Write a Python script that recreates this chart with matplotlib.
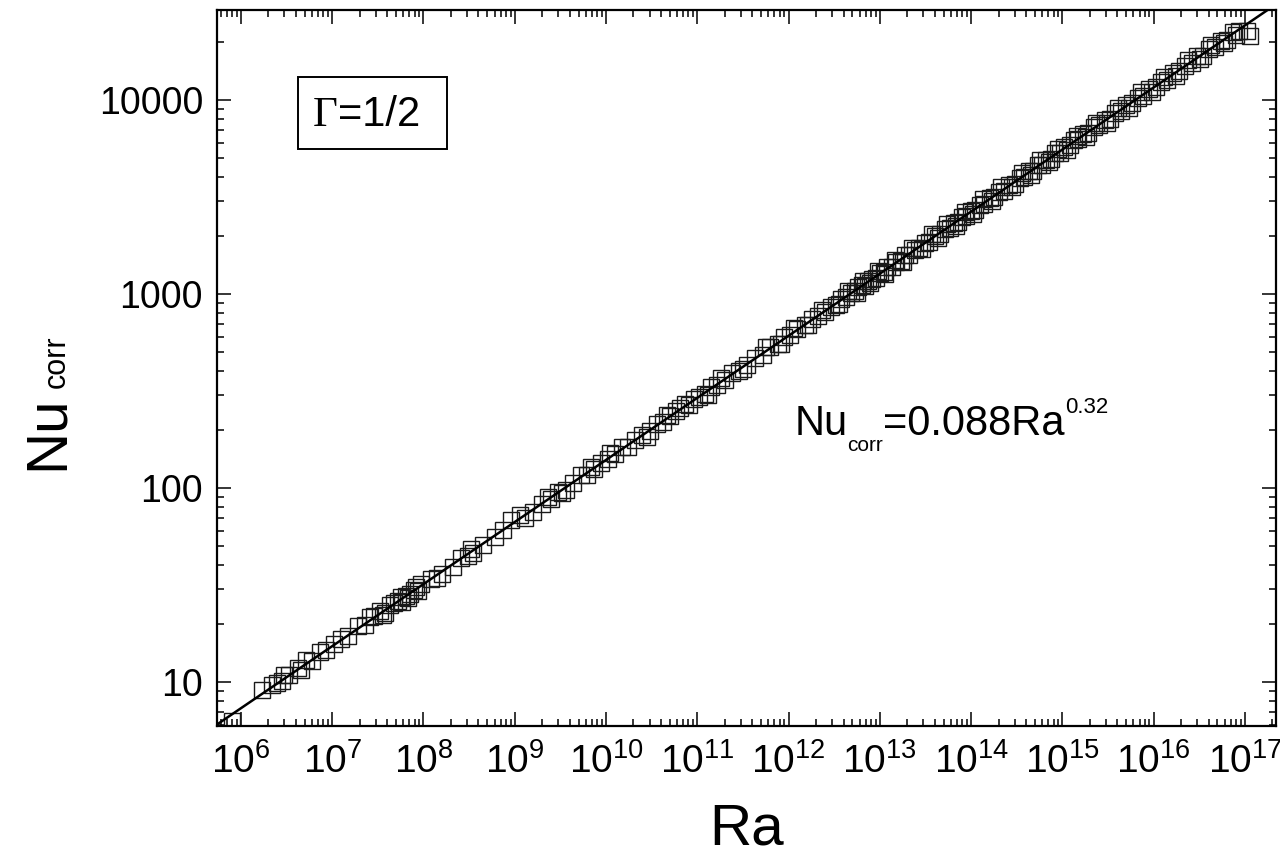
import matplotlib
import numpy as np

matplotlib.use("Agg")
from matplotlib import pyplot as plt
from matplotlib.patches import Rectangle
from matplotlib.ticker import LogLocator, FuncFormatter, NullFormatter

plt.rcParams["font.family"] = ["Liberation Sans", "DejaVu Sans"]
plt.rcParams["mathtext.fontset"] = "custom"
plt.rcParams["mathtext.rm"] = "Liberation Sans"
plt.rcParams["mathtext.it"] = "Liberation Sans:italic"
plt.rcParams["mathtext.bf"] = "Liberation Sans:bold"

ra = np.array([
    8.0e5, 1.7e6, 2.2e6, 2.5e6, 2.8e6, 3.4e6, 4.2e6, 5.1e6, 6.0e6, 7.3e6, 8.5e6,
    1.05e7, 1.25e7, 1.5e7, 1.9e7, 2.3e7, 2.9e7, 3.3e7, 3.8e7, 4.3e7, 4.8e7,
    5.3e7, 5.8e7, 6.4e7, 7.1e7, 7.8e7, 8.6e7, 9.5e7,
    1.2e8, 1.6e8, 2.1e8, 2.6e8, 3.1e8, 3.5e8, 4.5e8, 6.0e8, 7.5e8, 9.0e8,
    1.15e9, 1.3e9, 1.6e9, 2.0e9, 2.5e9, 3.0e9, 3.6e9, 4.4e9, 5.3e9, 6.2e9, 7.4e9, 8.8e9,
    1.05e10, 1.25e10, 1.5e10, 1.75e10, 2.1e10, 2.5e10, 3.0e10, 3.6e10, 4.2e10,
    5.0e10, 5.8e10, 6.5e10, 7.3e10, 8.2e10, 9.2e10,
    1.05e11, 1.2e11, 1.4e11, 1.65e11, 2.0e11, 2.4e11, 2.9e11, 3.5e11, 4.3e11,
    5.2e11, 6.3e11, 7.6e11, 9.0e11,
    1.05e12, 1.25e12, 1.5e12, 1.8e12, 2.1e12, 2.5e12, 2.9e12, 3.3e12, 3.8e12,
    4.3e12, 4.8e12, 5.3e12, 5.8e12, 6.3e12, 6.9e12, 7.5e12, 8.2e12, 9.0e12,
    1.0e13, 1.1e13, 1.2e13, 1.35e13, 1.5e13, 1.7e13, 1.9e13, 2.1e13, 2.4e13,
    2.7e13, 3.1e13, 3.5e13, 4.0e13, 4.6e13, 5.2e13, 5.8e13, 6.5e13, 7.2e13,
    8.0e13, 8.9e13,
    1.0e14, 1.1e14, 1.25e14, 1.4e14, 1.6e14, 1.8e14, 2.0e14, 2.3e14, 2.6e14,
    3.0e14, 3.4e14, 3.8e14, 4.3e14, 4.8e14, 5.4e14, 6.0e14, 6.7e14, 7.5e14,
    8.4e14, 9.4e14,
    1.05e15, 1.2e15, 1.35e15, 1.5e15, 1.7e15, 1.9e15, 2.2e15, 2.5e15, 2.9e15,
    3.3e15, 3.8e15, 4.4e15, 5.0e15, 5.8e15, 6.7e15, 7.7e15, 9.0e15,
    1.05e16, 1.2e16, 1.4e16, 1.65e16, 1.9e16, 2.2e16, 2.6e16, 3.0e16, 3.5e16,
    4.0e16, 4.7e16, 5.5e16, 6.4e16, 7.4e16, 8.6e16,
    1.05e17, 1.15e17,
])
nu = np.array([
    6.3, 9.1, 9.6, 9.9, 10.1, 10.9, 11.8, 12.9, 12.8, 14.2, 14.6,
    15.6, 16.6, 17.2, 19.4, 19.6, 22.0, 23.3, 22.6, 24.8, 25.6,
    26.2, 25.9, 27.8, 28.5, 29.8, 29.4, 31.8,
    34.0, 36.0, 39.3, 43.5, 44.6, 46.0, 50.8, 55.6, 61.0, 68.2,
    72.5, 69.8, 75.0, 83.0, 87.5, 95.5, 98.0, 106.5, 116.0, 116.0, 124.5, 135.0,
    140.5, 149.0, 162.0, 163.0, 176.0, 188.0, 196.0, 213.0, 219.0,
    236.0, 248.0, 258.0, 270.0, 268.0, 286.0,
    294.0, 306.0, 332.0, 338.0, 362.0, 392.0, 403.0, 428.0, 468.0,
    486.0, 530.0, 553.0, 598.0,
    612.0, 660.0, 688.0, 745.0, 770.0, 805.0, 858.0, 880.0, 940.0,
    968.0, 1015.0, 1030.0, 1080.0, 1118.0, 1095.0, 1165.0, 1190.0, 1212.0,
    1290.0, 1300.0, 1375.0, 1380.0, 1470.0, 1485.0, 1580.0, 1590.0, 1695.0,
    1720.0, 1835.0, 1860.0, 1990.0, 2045.0, 2165.0, 2180.0, 2330.0, 2350.0,
    2480.0, 2520.0,
    2690.0, 2720.0, 2880.0, 2920.0, 3120.0, 3170.0, 3360.0, 3400.0, 3650.0,
    3690.0, 3980.0, 4030.0, 4280.0, 4330.0, 4600.0, 4620.0, 4930.0, 4980.0,
    5310.0, 5360.0,
    5700.0, 5850.0, 6200.0, 6280.0, 6650.0, 6760.0, 7250.0, 7390.0, 7900.0,
    8020.0, 8600.0, 8770.0, 9450.0, 9620.0, 10250.0, 10480.0, 11380.0,
    11600.0, 12400.0, 12650.0, 13800.0, 14100.0, 15000.0, 15500.0, 16800.0, 16900.0,
    18300.0, 18700.0, 20100.0, 20500.0, 22400.0, 22600.0,
    22800.0, 21500.0,
])
# second batch of points lying in the same band
ra_extra = np.array([
    3.0e6, 4.6e6, 2.6e7, 3.6e7, 5.6e7, 6.8e7, 8.2e7, 1.4e8, 3.3e8,
    2.3e9, 3.3e9, 6.8e9, 1.1e10, 2.8e10, 4.6e10,
    1.3e11, 1.8e11, 3.2e11, 5.7e11, 8.3e11,
    1.15e12, 1.65e12, 2.3e12, 3.6e12, 4.5e12, 5.6e12, 6.6e12, 7.9e12, 9.5e12,
    1.15e13, 1.45e13, 1.8e13, 2.25e13, 2.9e13, 3.7e13, 4.3e13, 5.5e13, 6.8e13, 8.5e13,
    1.05e14, 1.35e14, 1.7e14, 2.15e14, 2.8e14, 3.6e14, 4.5e14, 5.7e14, 7.1e14, 9.0e14,
    1.12e15, 1.45e15, 1.8e15, 2.35e15, 3.1e15, 4.1e15, 5.4e15, 7.2e15, 9.6e15,
    1.3e16, 1.75e16, 2.4e16, 3.2e16, 4.3e16, 5.9e16, 8.0e16,
])
nu_extra = np.array([
    10.9, 11.5, 21.6, 22.1, 27.5, 27.1, 31.0, 34.3, 48.5,
    90.2, 94.4, 127.5, 152.0, 184.0, 238.0,
    300.0, 371.0, 410.0, 530.0, 551.0,
    668.0, 690.0, 829.0, 885.0, 1030.0, 1012.0, 1170.0, 1135.0, 1310.0,
    1270.0, 1505.0, 1470.0, 1730.0, 1700.0, 2030.0, 1935.0, 2290.0, 2240.0, 2640.0,
    2590.0, 3070.0, 3010.0, 3560.0, 3540.0, 4200.0, 4110.0, 4880.0, 4770.0, 5620.0,
    5530.0, 6540.0, 6440.0, 7650.0, 7640.0, 9110.0, 9110.0, 10960.0, 10950.0,
    13200.0, 13280.0, 16050.0, 16200.0, 19300.0, 19600.0, 21600.0,
])

fit_prefactor = 0.088
fit_exponent = 0.32
ra_range = [5.46e5, 2.2e17]
nu_range = [5.93, 29100]
nu_ticks = [10, 100, 1000, 10000]


def chain_text(fig, x, y, parts, transform, rotation=0):
    """Place text pieces one after another; parts are (text, size, rise_px, gap_px, family)."""
    renderer = fig.canvas.get_renderer()
    advance = 0.0
    for text, size, rise, gap, family in parts:
        advance += gap
        if rotation == 90:
            xy_off = (-rise, advance)
        else:
            xy_off = (advance, rise)
        t = fig.axes[0].annotate(text, xy=(x, y), xycoords=transform,
                                 xytext=xy_off, textcoords="offset pixels",
                                 fontsize=size, family=family, rotation=rotation,
                                 rotation_mode="anchor", ha="left", va="baseline",
                                 annotation_clip=False)
        ext = t.get_window_extent(renderer)
        advance += ext.height if rotation == 90 else ext.width


fig = plt.figure(figsize=(12.8, 8.63), dpi=100)
ax = fig.add_axes([0.1695, 0.1588, 0.8275, 0.8296])

all_ra = np.concatenate([ra, ra_extra])
all_nu = np.concatenate([nu, nu_extra])
ax.plot(all_ra, all_nu, "s", markersize=12, markerfacecolor="none",
        markeredgecolor="#1a1a1a", markeredgewidth=1.0, zorder=2)

ra_fit = np.array(ra_range)
ax.plot(ra_fit, fit_prefactor * ra_fit ** fit_exponent, color="black",
        linewidth=1.8, zorder=3)

ax.set_xscale("log")
ax.set_yscale("log")
ax.set_xlim(ra_range)
ax.set_ylim(nu_range)

ax.xaxis.set_major_locator(LogLocator(base=10, numticks=20))
ax.xaxis.set_minor_locator(LogLocator(base=10, subs=np.arange(2, 10), numticks=20))
ax.xaxis.set_major_formatter(
    FuncFormatter(lambda v, p: r"$\mathregular{10^{%d}}$" % round(np.log10(v))))
ax.xaxis.set_minor_formatter(NullFormatter())
ax.set_yticks(nu_ticks)
ax.yaxis.set_minor_locator(LogLocator(base=10, subs=np.arange(2, 10), numticks=20))
ax.yaxis.set_major_formatter(FuncFormatter(lambda v, p: "%d" % v))
ax.yaxis.set_minor_formatter(NullFormatter())

ax.tick_params(which="both", direction="in", top=True, right=True, width=1.1)
ax.tick_params(which="major", length=10, labelsize=27)
ax.tick_params(axis="x", which="major", pad=12, labelsize=28)
ax.tick_params(axis="y", which="major", pad=10)
ax.tick_params(which="minor", length=5)
for spine in ax.spines.values():
    spine.set_linewidth(1.6)

ax.set_xlabel("Ra", fontsize=42, labelpad=16)

sans = ["Liberation Sans"]
# y label: Nu with a small "corr" subscript, rotated
chain_text(fig, 63 / 1280, 1 - 470 / 863,
           [("Nu", 42, 0, 0, sans), ("corr", 22, -2, 8, sans)],
           fig.transFigure, rotation=90)

# fit annotation
chain_text(fig, 0.545, 0.406,
           [("Nu", 30, 0, 0, sans), ("corr", 15, -16, 0, sans),
            ("=0.088Ra", 30, 0, 0, sans), ("0.32", 16, 22, 1, sans)],
           ax.transAxes)

# aspect ratio box
ax.add_patch(Rectangle((0.0765, 0.806), 0.1407, 0.1006, transform=ax.transAxes,
                       fill=False, edgecolor="black", linewidth=1.4, zorder=4))
chain_text(fig, 0.0907, 0.838,
           [("Γ", 31, 0, 0, ["Liberation Serif"]), ("=1/2", 30, 0, 0, sans)],
           ax.transAxes)

fig.savefig("out.png", dpi=100)
plt.close("all")
